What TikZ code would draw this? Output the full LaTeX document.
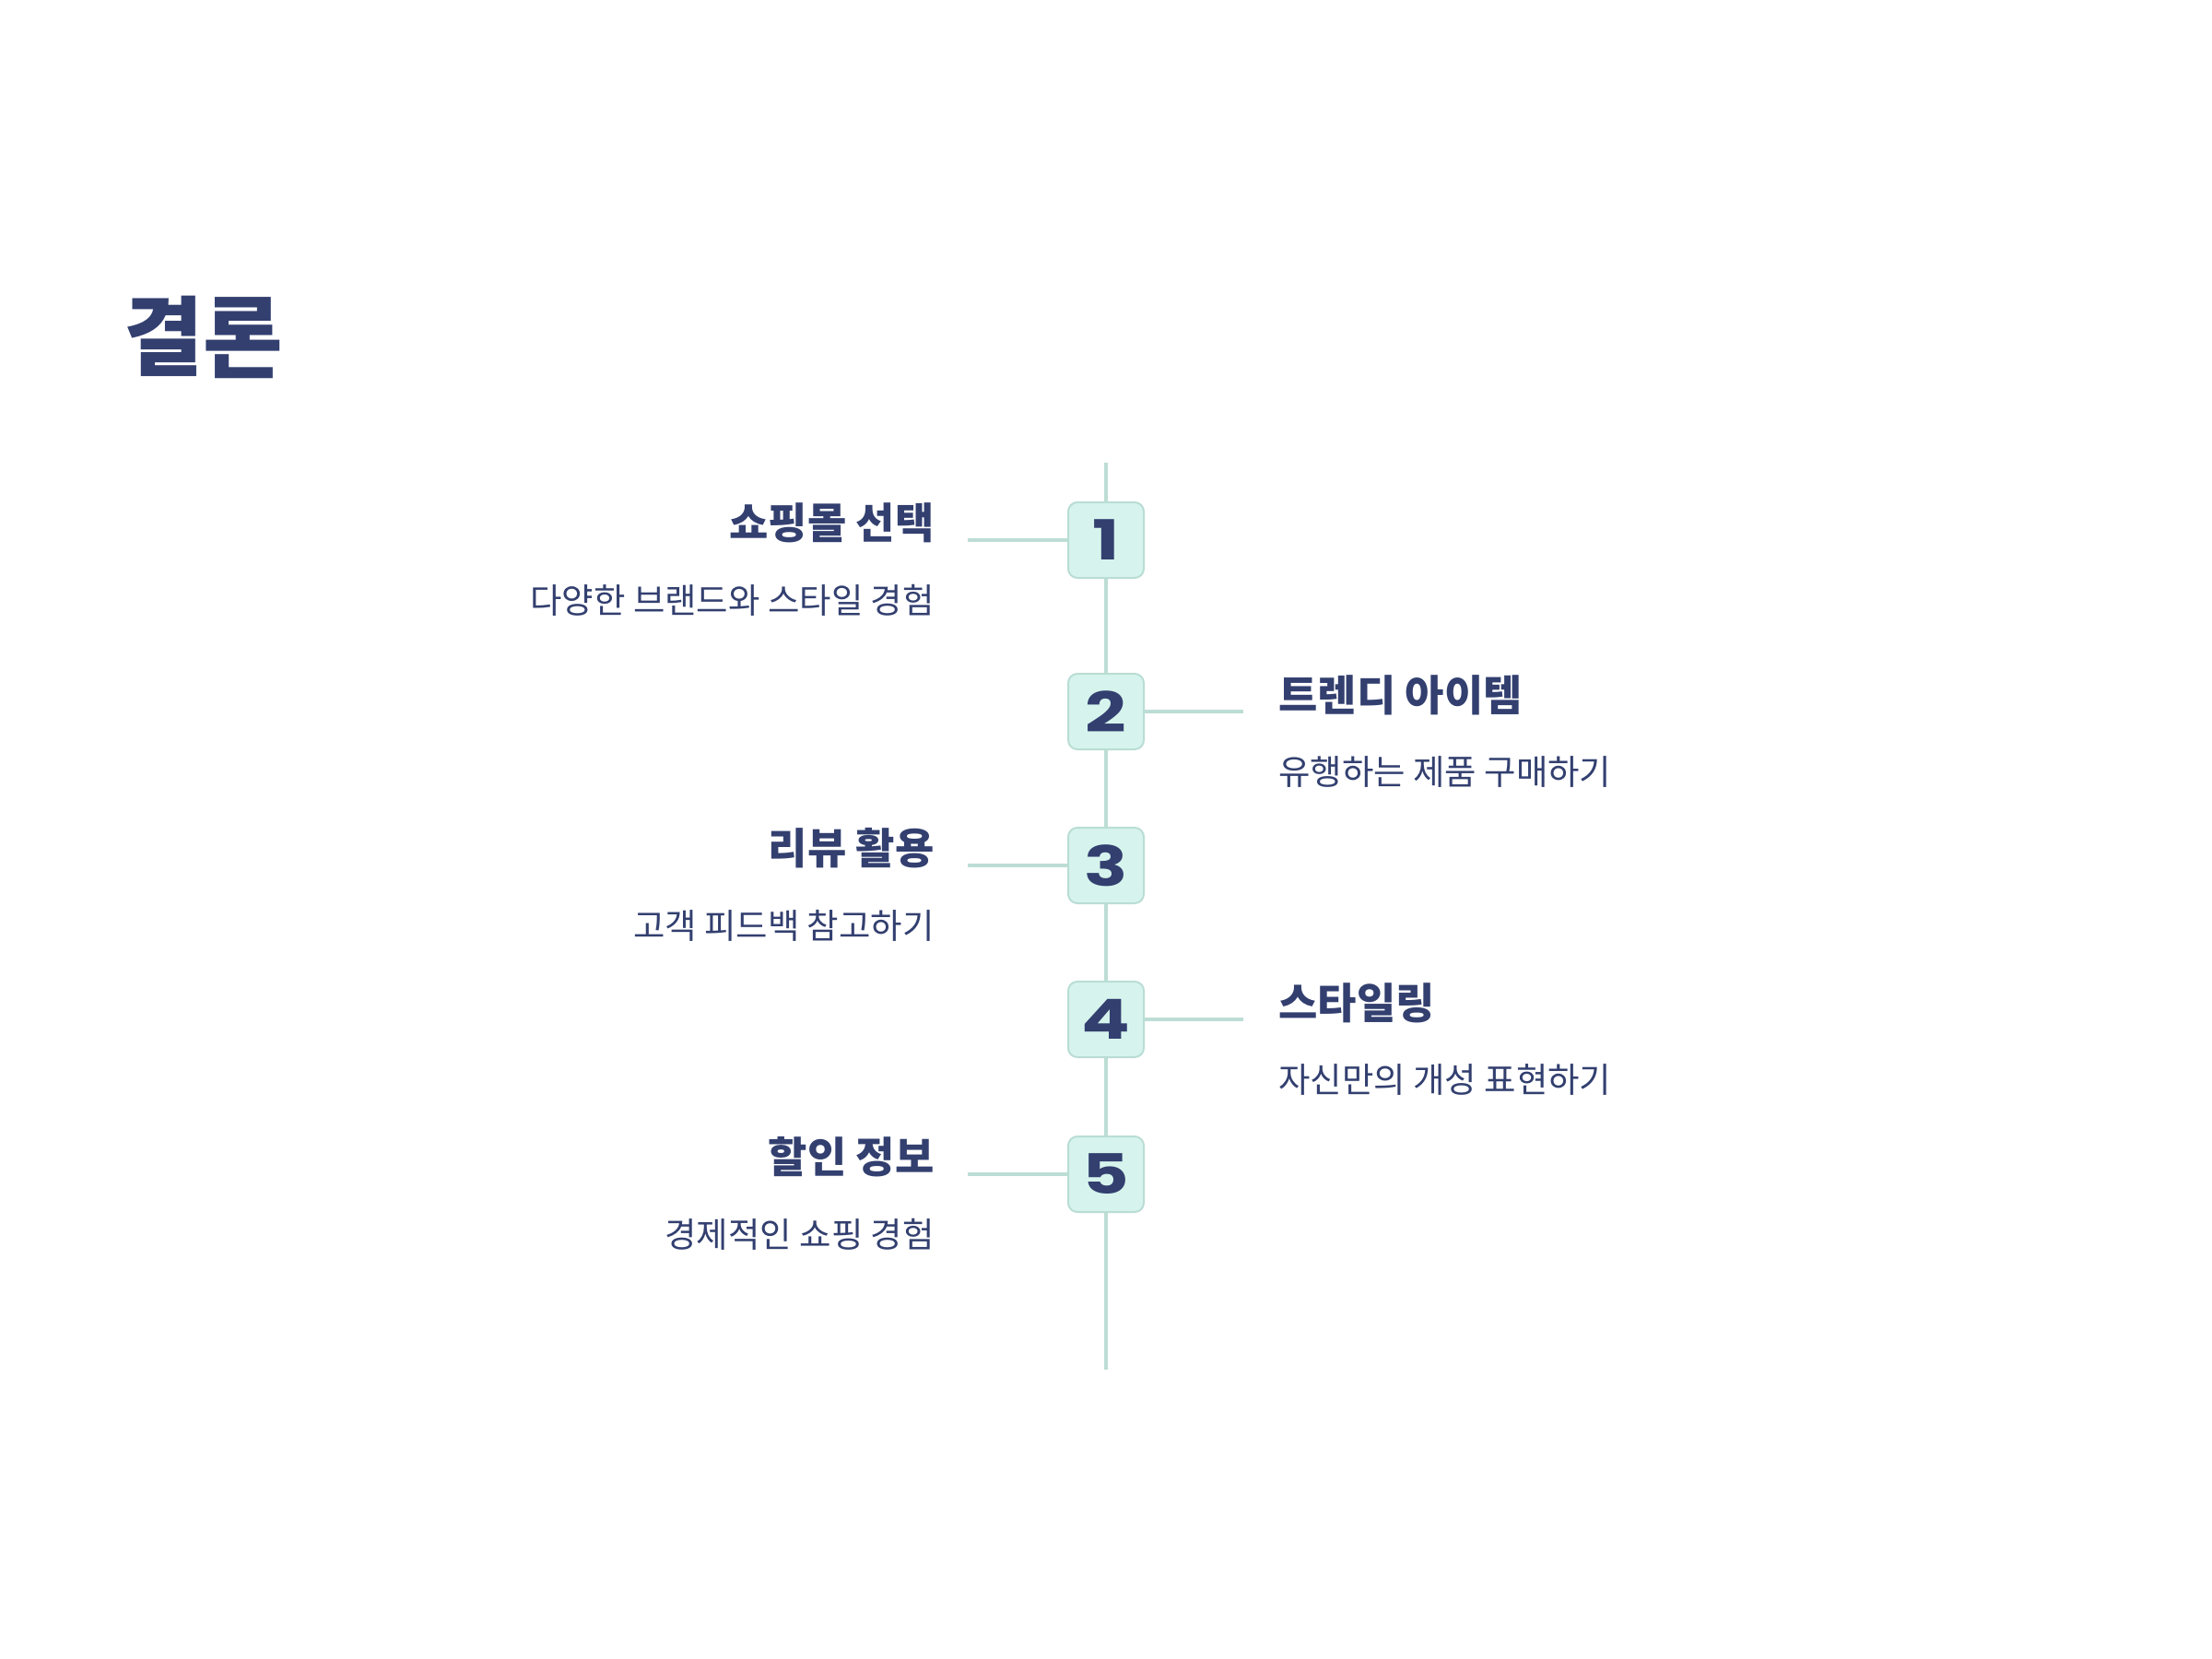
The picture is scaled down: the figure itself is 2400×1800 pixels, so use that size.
\documentclass[tikz,border=0pt]{standalone}
\usepackage{fontspec}
\newfontfamily\kr{Noto Sans CJK KR}
\newfontfamily\numfont{Poppins}[UprightFont=* Bold]
\definecolor{navy}{HTML}{323F6F}
\definecolor{boxfill}{HTML}{D6F4ED}
\definecolor{boxline}{HTML}{B9DDD4}
\definecolor{tl}{HTML}{BCDDD5}
\begin{document}
\begin{tikzpicture}[x=0.5pt,y=-0.5pt,
  numbox/.style={draw=boxline,fill=boxfill,line width=1pt,rounded corners=5pt,minimum width=41pt,minimum height=41pt,inner sep=0pt,text=navy,font=\numfont\fontsize{30}{30}\selectfont},
  conn/.style={draw=tl,line width=2pt},
  ttl/.style={inner sep=0pt,text=navy,font=\kr\bfseries\fontsize{23}{26}\selectfont},
  sub/.style={inner sep=0pt,text=navy,font=\kr\fontsize{18.7}{21}\selectfont}]
\useasboundingbox (0,0) rectangle (2400,1800);
\fill[white] (0,0) rectangle (2400,1800);
\node[anchor=west,inner sep=0pt,text=navy,font=\kr\bfseries\fontsize{47}{52}\selectfont] (title) at (134,366) {결론};
\coordinate (top) at (1200,502);
\coordinate (bot) at (1200,1486);
\draw[conn] (top) -- (bot);
% boxes
\node[numbox] (b1) at (1200,586) {\scalebox{1.3}[1]{1}};
\node[numbox] (b2) at (1200,772) {\scalebox{1.3}[1]{2}};
\node[numbox] (b3) at (1200,939) {\scalebox{1.3}[1]{3}};
\node[numbox] (b4) at (1200,1106) {\scalebox{1.3}[1]{4}};
\node[numbox] (b5) at (1200,1274) {\scalebox{1.3}[1]{5}};
\coordinate (c1) at (1050,586);
\coordinate (c2) at (1349,772);
\coordinate (c3) at (1050,939);
\coordinate (c4) at (1349,1106);
\coordinate (c5) at (1050,1274);
\draw[conn] (c1) -- (b1.west);
\draw[conn] (b2.east) -- (c2);
\draw[conn] (c3) -- (b3.west);
\draw[conn] (b4.east) -- (c4);
\draw[conn] (c5) -- (b5.west);
% texts
\node[ttl,anchor=east] (t1) at (1014,567) {쇼핑몰 선택};
\node[sub,anchor=east] (s1) at (1014,651) {다양한 브랜드와 스타일 경험};
\node[ttl,anchor=west] (t2) at (1387,754) {트렌디 아이템};
\node[sub,anchor=west] (s2) at (1387,837) {유행하는 제품 구매하기};
\node[ttl,anchor=east] (t3) at (1014,920) {리뷰 활용};
\node[sub,anchor=east] (s3) at (1014,1004) {고객 피드백 참고하기};
\node[ttl,anchor=west] (t4) at (1387,1088) {스타일링};
\node[sub,anchor=west] (s4) at (1387,1171) {자신만의 개성 표현하기};
\node[ttl,anchor=east] (t5) at (1014,1255) {할인 정보};
\node[sub,anchor=east] (s5) at (1014,1339) {경제적인 쇼핑 경험};
\end{tikzpicture}
\end{document}
